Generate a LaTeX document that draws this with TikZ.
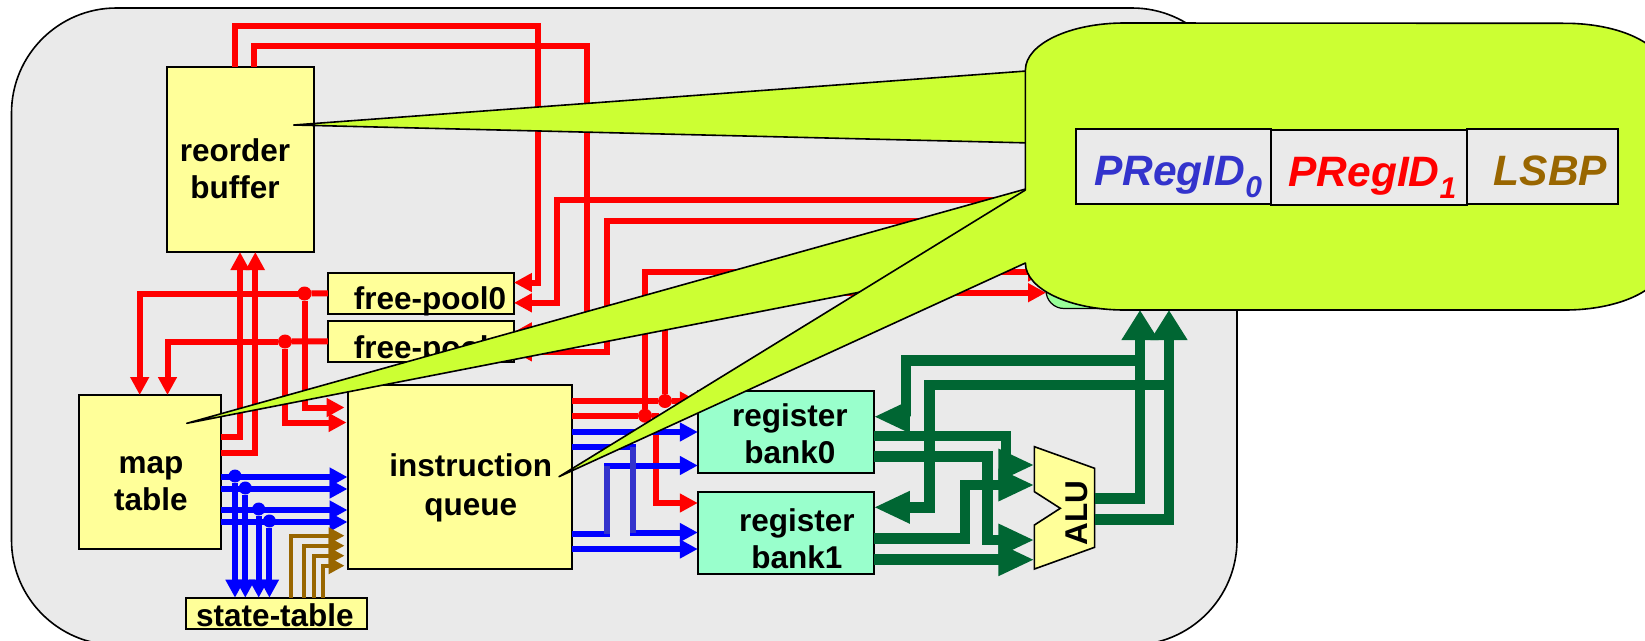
\documentclass[tikz,border=0pt]{standalone}
\usepackage{xcolor}
\usepackage{fontspec}
\usepackage{tikz}
\usetikzlibrary{positioning,arrows.meta}
\setmainfont{Liberation Sans}
\definecolor{cpuRed}{HTML}{FF0000}
\definecolor{cpuBlue}{HTML}{0000FF}
\definecolor{cpuIndigo}{HTML}{3333CC}
\definecolor{cpuGreen}{HTML}{006633}
\definecolor{cpuBrown}{HTML}{996600}
\definecolor{cpuYellow}{HTML}{FFFF99}
\definecolor{cpuMint}{HTML}{99FFCC}
\definecolor{cpuPale}{HTML}{99FF99}
\definecolor{cpuGray}{HTML}{EAEAEA}
\definecolor{cpuLime}{HTML}{CCFF33}
\tikzset{
  block/.style={draw, line width=2pt, inner sep=0pt, outer sep=0pt},
  blockYellow/.style={block, fill=cpuYellow},
  blockMint/.style={block, fill=cpuMint},
  blockCell/.style={block, fill=cpuGray, text height=38.8pt, text depth=0pt, font=\fontsize{42.5}{48}\selectfont\bfseries\itshape},
  blockText/.style={inner sep=0pt, align=center, font=\fontsize{31.5}{37}\selectfont\bfseries},
  callout/.style={draw, line width=1.6pt, fill=cpuLime, line join=round},
  wireRed/.style={draw=cpuRed, line width=6pt},
  wireBlue/.style={draw=cpuBlue, line width=6pt},
  wireIndigo/.style={draw=cpuIndigo, line width=6pt},
  wireBrown/.style={draw=cpuBrown, line width=3.8pt},
  wireGreen/.style={draw=cpuGreen, line width=10.5pt},
  arrowRed/.style={wireRed, -{Triangle[length=18pt, width=18pt]}},
  arrowBlue/.style={wireBlue, -{Triangle[length=18pt, width=18pt]}},
  arrowBrown/.style={wireBrown, -{Triangle[length=16pt, width=16pt]}},
  arrowGreen/.style={wireGreen, -{Triangle[length=36pt, width=30pt]}},
  arrowGreenUp/.style={wireGreen, -{Triangle[length=30pt, width=35pt]}},
  dotRed/.style={circle, fill=cpuRed, minimum size=14pt, inner sep=0pt, outer sep=0pt},
  dotBlue/.style={circle, fill=cpuBlue, minimum size=13pt, inner sep=0pt, outer sep=0pt}
}
\begin{document}
\begin{tikzpicture}[x=1pt, y=-1pt]
  \useasboundingbox (0,0) rectangle (1645,640);
  \clip (0,0) rectangle (1645,640);
  \draw[fill=cpuGray, line width=1.6pt, rounded corners=105pt] (11.5,8) rectangle (1237,645);
  \node[block, fill=cpuPale, rounded corners=18pt, line width=1.2pt, minimum width=160pt, minimum height=120pt] (commit) at (1126,248.5) {};

  \node[blockYellow, minimum width=142pt, minimum height=154pt] (map) at (149.5,472) {};
  \node[blockYellow, above=143pt of map, xshift=90.5pt, minimum width=147pt, minimum height=185.3pt] (rob) {};
  \node[blockYellow, right=127pt of map, yshift=-5pt, minimum width=224.5pt, minimum height=184.3pt] (iq) {};
  \node[blockYellow, above=23pt of iq, xshift=-38.8pt, minimum width=186pt, minimum height=41pt] (fp1) {};
  \node[blockYellow, above=7pt of fp1, minimum width=186pt, minimum height=41pt] (fp0) {};
  \node[blockYellow, below=48.7pt of map, xshift=127pt, minimum width=181.8pt, minimum height=31.6pt] (st) {};
  \node[blockMint, right=125.8pt of iq, yshift=45.5pt, minimum width=176pt, minimum height=82pt] (rb0) {};
  \node[blockMint, below=19pt of rb0, minimum width=176pt, minimum height=82pt] (rb1) {};
  \draw[fill=cpuYellow, line width=1.6pt] (1034.4,446.7) -- (1094.6,468.3) -- (1094.6,547.3) -- (1034.4,569) -- (1034.4,525) -- (1060.3,508.3) -- (1034.4,491.7) -- cycle;

  \node[blockText] (robText) at ([xshift=-5pt, yshift=-9pt]rob.center) {reorder\\buffer};
  \node[blockText] (mapText) at ([xshift=1.5pt, yshift=-12pt]map.center) {map\\table};
  \node[blockText, font=\fontsize{31.5}{39}\selectfont\bfseries] (iqText) at ([xshift=11pt, yshift=-11pt]iq.center) {instruction\\queue};
  \node[blockText] (fp0Text) at ([xshift=9pt, yshift=-8.5pt]fp0.center) {free-pool0};
  \node[blockText] (fp1Text) at ([xshift=9pt, yshift=-8.5pt]fp1.center) {free-pool1};
  \node[blockText] (stText) at ([xshift=-1.5pt, yshift=-1.5pt]st.center) {state-table};
  \node[blockText] (rb0Text) at ([xshift=4pt, yshift=-2pt]rb0.center) {register\\bank0};
  \node[blockText] (rb1Text) at ([xshift=11pt, yshift=-6pt]rb1.center) {register\\bank1};
  \node[blockText, rotate=90] (alu) at (1076.8,512.7) {ALU};

  \coordinate (aluIn0) at (1034.4,465);
  \coordinate (aluIn1) at (1034.4,485);
  \coordinate (aluIn2) at (1034.4,540);
  \coordinate (aluIn3) at (1034.4,559.7);
  \coordinate (aluOut0) at (1094.6,498.3);
  \coordinate (aluOut1) at (1094.6,519.3);
  \coordinate (aluBus0) at (1140,360.7);
  \coordinate (aluBus1) at (1169,385);
  \coordinate (bubbleIn0) at (1140,310);
  \coordinate (bubbleIn1) at (1169,310);
  \coordinate (bendTop0) at (607,465.5);
  \coordinate (bendBot0) at (607,534);
  \coordinate (bendTop1) at (632.6,446.7);
  \coordinate (bendBot1) at (632.6,532.5);

  \node[dotRed] (dotFp0) at (304.5,293.5) {};
  \node[dotRed] (dotFp1) at (285,341.5) {};
  \node[dotRed] (dotIq0) at (665,401) {};
  \node[dotRed] (dotIq1) at (645,415.7) {};
  \node[dotBlue] (dotMap0) at (235,476) {};
  \node[dotBlue] (dotMap1) at (245.3,488) {};
  \node[dotBlue] (dotMap2) at (258.7,509) {};
  \node[dotBlue] (dotMap3) at (269.4,521) {};

  \draw[arrowRed] ([xshift=-5pt]rob.north) |- (537.5,26) |- ([yshift=10.8pt]fp0.east);
  \draw[arrowRed] ([xshift=14pt]rob.north) |- (586.6,46) |- ([yshift=9.5pt]fp1.east);
  \draw[arrowRed] ([yshift=48.5pt]commit.west) -- (557,200) |- ([yshift=-9.5pt]fp0.east);
  \draw[arrowRed] ([yshift=27.8pt]commit.west) -- (606.7,220.7) |- ([yshift=-10.5pt]fp1.east);
  \draw[arrowRed] ([yshift=35.3pt]map.east) -| (rob.south);
  \draw[arrowRed] ([yshift=19.3pt]map.east) -| ([xshift=15.3pt]rob.south);
  \draw[wireRed] (fp0.west) -- (dotFp0);
  \draw[arrowRed] (dotFp0) -| ([xshift=-9.8pt]map.north);
  \draw[wireRed] (fp1.west) -- (dotFp1);
  \draw[arrowRed] (dotFp1) -| ([xshift=18pt]map.north);
  \draw[arrowRed] (dotFp0) |- ([xshift=-3pt, yshift=69.5pt]iq.west);
  \draw[arrowRed] (dotFp1) |- ([xshift=-1pt, yshift=54.5pt]iq.west);
  \draw[arrowRed] ([yshift=76pt]iq.east) -- (dotIq0) -- ([yshift=30.5pt]rb0.west);
  \draw[arrowRed] (dotIq0) |- ([yshift=-44.2pt]commit.west);
  \draw[wireRed] ([yshift=61.3pt]iq.east) -- (dotIq1);
  \draw[arrowRed] (dotIq1) |- ([yshift=-23.5pt]commit.west);
  \draw[arrowRed] (dotIq1) -- (655.8,415.7) |- ([yshift=29.5pt]rb1.west);

  \draw[arrowBlue] ([yshift=-5pt]map.east) -- (iq.west);
  \draw[arrowBlue] ([yshift=-17pt]map.east) -- ([yshift=-12pt]iq.west);
  \draw[arrowBlue] ([yshift=-38pt]map.east) -- ([yshift=-33pt]iq.west);
  \draw[arrowBlue] ([yshift=-50pt]map.east) -- ([yshift=-45pt]iq.west);
  \draw[arrowBlue] (dotMap0) -- ([xshift=-41.5pt]st.north);
  \draw[arrowBlue] (dotMap1) -- ([xshift=-31.2pt]st.north);
  \draw[arrowBlue] (dotMap2) -- ([xshift=-17.8pt]st.north);
  \draw[arrowBlue] (dotMap3) -- ([xshift=-7.1pt]st.north);
  \draw[arrowBlue] ([yshift=45pt]iq.east) -- ([yshift=-.5pt]rb0.west);
  \draw[arrowBlue] ([yshift=30.3pt]iq.east) -- (bendTop1) |- (rb1.west);
  \draw[arrowBlue] ([yshift=-57pt]iq.east) -- (bendBot0) |- ([yshift=-34pt]rb0.west);
  \draw[arrowBlue] ([yshift=-72pt]iq.east) -- ([yshift=-16.5pt]rb1.west);
  \draw[wireIndigo] (bendBot0) -- (bendTop0);
  \draw[wireIndigo] (bendTop1) -- (bendBot1);

  \draw[arrowBrown] ([xshift=14.4pt]st.north) |- ([xshift=-3pt, yshift=-58.7pt]iq.west);
  \draw[arrowBrown] ([xshift=27.7pt]st.north) |- ([xshift=-3pt, yshift=-68.7pt]iq.west);
  \draw[arrowBrown] ([xshift=37.3pt]st.north) |- ([xshift=-3pt, yshift=-78.7pt]iq.west);
  \draw[arrowBrown] ([xshift=46.1pt]st.north) |- ([xshift=-3pt, yshift=-88.7pt]iq.west);

  \draw[arrowGreenUp] (aluOut0) -| (bubbleIn0);
  \draw[arrowGreenUp] (aluOut1) -| (bubbleIn1);
  \draw[arrowGreen] (aluBus0) -- (905.8,360.7) |- ([yshift=14.8pt]rb0.east);
  \draw[arrowGreen] (aluBus1) -- (929.5,385) |- ([yshift=25.2pt]rb1.east);
  \draw[arrowGreen] ([yshift=-4.5pt]rb0.east) -- (1006,436) |- (aluIn0);
  \draw[arrowGreen] ([yshift=-25.2pt]rb0.east) -- (987.5,456.7) |- (aluIn2);
  \draw[arrowGreen] ([yshift=-5.8pt]rb1.east) -- (965,538.3) |- (aluIn1);
  \draw[arrowGreen] ([yshift=-27.2pt]rb1.east) -- (aluIn3);

  \draw[callout] (293.8,125) -- (1040,70) -- (1040,143.2) -- cycle;
  \draw[callout] (186.8,423.3) -- (1040,185) -- (1040,257) -- cycle;
  \draw[callout] (1025.4,70) arc[start angle=180, end angle=270, x radius=99, y radius=47]
    -- (1565,23.3) arc[start angle=270, end angle=360, x radius=99, y radius=47]
    -- (1664,263) arc[start angle=0, end angle=90, x radius=99, y radius=47]
    -- (1124.4,310) arc[start angle=90, end angle=180, x radius=99, y radius=47]
    -- (559,476.7) -- (1025.4,190) -- cycle;

  \node[blockCell, minimum width=194.7pt, minimum height=75.3pt, text=cpuIndigo] (cell0) at (1173.6,166.3) {\hspace*{9pt}PRegID\raisebox{-12pt}{\fontsize{30}{30}\selectfont 0}};
  \node[blockCell, right=0pt of cell0, yshift=-1pt, minimum width=195.8pt, minimum height=75.3pt, text=cpuRed] (cell1) {\hspace*{7pt}PRegID\raisebox{-12pt}{\fontsize{30}{30}\selectfont 1}};
  \node[blockCell, right=0pt of cell1, yshift=1pt, minimum width=151.2pt, minimum height=75.3pt, text=cpuBrown] (cell2) {\hspace*{16pt}LSBP};
\end{tikzpicture}
\end{document}
